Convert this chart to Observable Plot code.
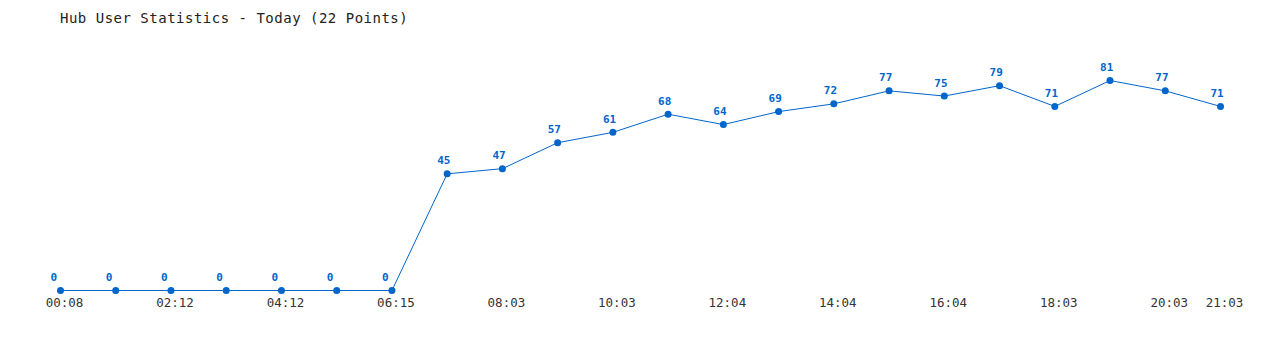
<!DOCTYPE html>
<html><head><meta charset="utf-8">
<script src="https://cdn.jsdelivr.net/npm/d3@7"></script>
<script src="https://cdn.jsdelivr.net/npm/@observablehq/plot@0.6"></script>
<style>
html,body{margin:0;padding:0;background:#fff;}
#title{position:relative;height:30px;font-family:"DejaVu Sans Mono",monospace;font-size:14px;letter-spacing:0.5px;color:#222;}
#title span{position:absolute;left:60px;top:11px;line-height:14px;}
</style>
</head><body>
<div id="title"><span>Hub User Statistics - Today (22 Points)</span></div>
<div id="chart"></div>
<script>
const values = [0,0,0,0,0,0,0,45,47,57,61,68,64,69,72,77,75,79,71,81,77,71];
const tickIndex = [0,2,4,6,8,10,12,14,16,18,20,21];
const tickLabels = ["00:08","02:12","04:12","06:15","08:03","10:03","12:04","14:04","16:04","18:03","20:03","21:03"];

const data = values.map((v,i)=>({i, v}));
const color = "#0066cc";

const chart = Plot.plot({
  width: 1280,
  height: 320,
  marginLeft: 60,
  marginRight: 60,
  marginTop: 50,
  marginBottom: 60,
  style: {fontFamily: "DejaVu Sans Mono, monospace", background: "#fff"},
  x: {type: "linear", domain: [0, 21]},
  y: {domain: [0, 81], axis: null},
  marks: [
    Plot.axisX({
      ticks: tickIndex,
      tickFormat: (d) => tickLabels[tickIndex.indexOf(d)],
      tickSize: 0,
      tickPadding: 8,
      fontSize: 12.5,
      dx: 4,
      fill: "#333",
      label: null
    }),
    Plot.line(data, {x: "i", y: "v", stroke: color, strokeWidth: 1}),
    Plot.dot(data, {x: "i", y: "v", r: 3.5, fill: color, stroke: "none"}),
    Plot.text(data, {x: "i", y: "v", text: (d) => String(d.v), textAnchor: "start", lineAnchor: "bottom", dx: -10, dy: -9.5, fill: color, fontWeight: "bold", fontSize: 11})
  ]
});
document.getElementById("chart").appendChild(chart);
</script>
</body></html>
